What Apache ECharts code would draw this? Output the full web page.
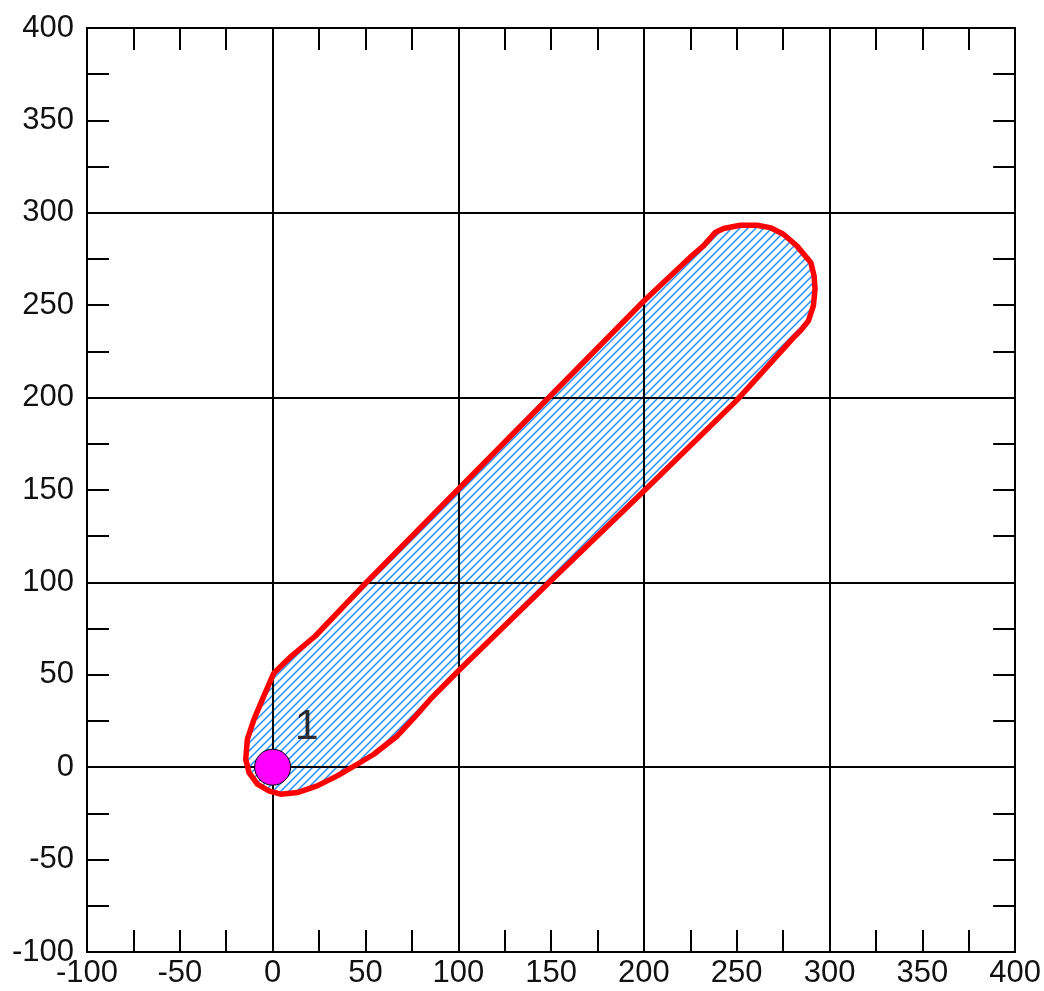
<!DOCTYPE html>
<html><head><meta charset="utf-8">
<script src="https://cdn.jsdelivr.net/npm/echarts@6/dist/echarts.min.js"></script>
<style>html,body{margin:0;padding:0;background:#fff}#c{width:1044px;height:991px}</style>
</head><body><div id="c"></div>
<script>
// Tick labels
const xTickLabels = [-100, -50, 0, 50, 100, 150, 200, 250, 300, 350, 400];
const yTickLabels = [-100, -50, 0, 50, 100, 150, 200, 250, 300, 350, 400];

// Boundary of the zone (red outline)
const boundaryX = [0.7, 10, 23, 50, 100, 150, 200, 225, 232.1, 238.4, 242.9, 251.9, 260.9, 268, 275.2, 282.4, 289.9, 291.7, 292.2, 291.3, 288.6, 284.2, 280.6,
  250, 200, 150, 100, 85, 76, 67.1, 54.5, 45.6, 34.8, 24, 13.3, 4.3, -2, -8.2, -12.7, -14.5, -13.6, -10, -4.7];
const boundaryY = [51, 60, 71, 99.5, 150.4, 201.3, 252.3, 276, 282.1, 289.3, 291.5, 293.3, 293.3, 292, 288.4, 282.1, 273.1, 265.9, 258.7, 249.6, 241.5, 236.1, 232.5,
  198.5, 149.5, 101, 52.1, 36.8, 26.5, 16.9, 7, 1.6, -4.7, -10.1, -13.7, -14.6, -12.8, -9.2, -2.9, 4.3, 15.2, 26, 38.6];

// Well
const wellX = [0];
const wellY = [0];
const wellNames = ['1'];
const wellLabelX = [18.3];
const wellLabelY = [21.6];

const FONT = 'Liberation Sans, Arial, sans-serif';

function makeHatch() {
  const s = 8;
  const c = document.createElement('canvas');
  c.width = s; c.height = s;
  const g = c.getContext('2d');
  g.strokeStyle = '#1e90ff';
  g.lineWidth = 1.5;
  g.beginPath();
  g.moveTo(-1, s + 1); g.lineTo(s + 1, -1);
  g.moveTo(-1, 1); g.lineTo(1, -1);
  g.moveTo(s - 1, s + 1); g.lineTo(s + 1, s - 1);
  g.stroke();
  return c;
}
const hatchCanvas = makeHatch();

const chart = echarts.init(document.getElementById('c'), null, {renderer: 'canvas'});

const lineStyle = {color: '#000', width: 2};
function mainAxis(pos, labels, isX) {
  return {
    type: 'value', min: -100, max: 400, interval: 25, position: pos, z: 6,
    axisLine: {show: true, onZero: false, lineStyle: lineStyle},
    axisTick: {show: true, inside: true, length: 22, lineStyle: lineStyle},
    axisLabel: {
      show: !!labels, fontSize: 31, color: '#111', fontFamily: FONT,
      margin: isX ? 6 : 13,
      formatter: v => (labels && labels.indexOf(v) >= 0) ? String(v) : ''
    },
    splitLine: {show: false}
  };
}
function gridAxis(pos) {
  return {
    type: 'value', min: -100, max: 400, interval: 100, position: pos, z: 3,
    axisLine: {show: false, onZero: false}, axisTick: {show: false}, axisLabel: {show: false},
    splitLine: {show: true, lineStyle: {color: '#000', width: 2}}
  };
}

function boundaryPoints(api) {
  return boundaryX.map((x, i) => api.coord([x, boundaryY[i]]));
}

const option = {
  animation: false,
  backgroundColor: '#fff',
  grid: {left: 87, right: 28, top: 28, bottom: 39, containLabel: false},
  xAxis: [mainAxis('bottom', xTickLabels, true), mainAxis('top', null, true), gridAxis('bottom')],
  yAxis: [mainAxis('left', yTickLabels, false), mainAxis('right', null, false), gridAxis('left')],
  series: [
    {
      type: 'custom', coordinateSystem: 'cartesian2d', xAxisIndex: 0, yAxisIndex: 0,
      silent: true, clip: true, z: 1,
      data: [[0, 0]],
      renderItem: function (params, api) {
        return {
          type: 'polygon',
          shape: {points: boundaryPoints(api)},
          style: {fill: {image: hatchCanvas, repeat: 'repeat'}, stroke: null}
        };
      }
    },
    {
      type: 'custom', coordinateSystem: 'cartesian2d', xAxisIndex: 0, yAxisIndex: 0,
      silent: true, clip: true, z: 4,
      data: [[0, 0]],
      renderItem: function (params, api) {
        return {
          type: 'polygon',
          shape: {points: boundaryPoints(api)},
          style: {fill: null, stroke: '#ff0000', lineWidth: 5.5, lineJoin: 'round'}
        };
      }
    },
    {
      type: 'scatter', xAxisIndex: 0, yAxisIndex: 0, z: 7, silent: true,
      symbol: 'circle', symbolSize: 36,
      itemStyle: {color: '#ff00ff', borderColor: '#000', borderWidth: 1, opacity: 1},
      data: wellX.map((x, i) => [x, wellY[i]])
    },
    {
      type: 'scatter', xAxisIndex: 0, yAxisIndex: 0, z: 8, silent: true,
      symbolSize: 0,
      label: {show: true, position: 'inside', formatter: p => wellNames[p.dataIndex], fontSize: 43, color: '#000', fontFamily: FONT},
      data: wellLabelX.map((x, i) => [x, wellLabelY[i]])
    }
  ]
};
chart.setOption(option);
</script>
</body></html>
